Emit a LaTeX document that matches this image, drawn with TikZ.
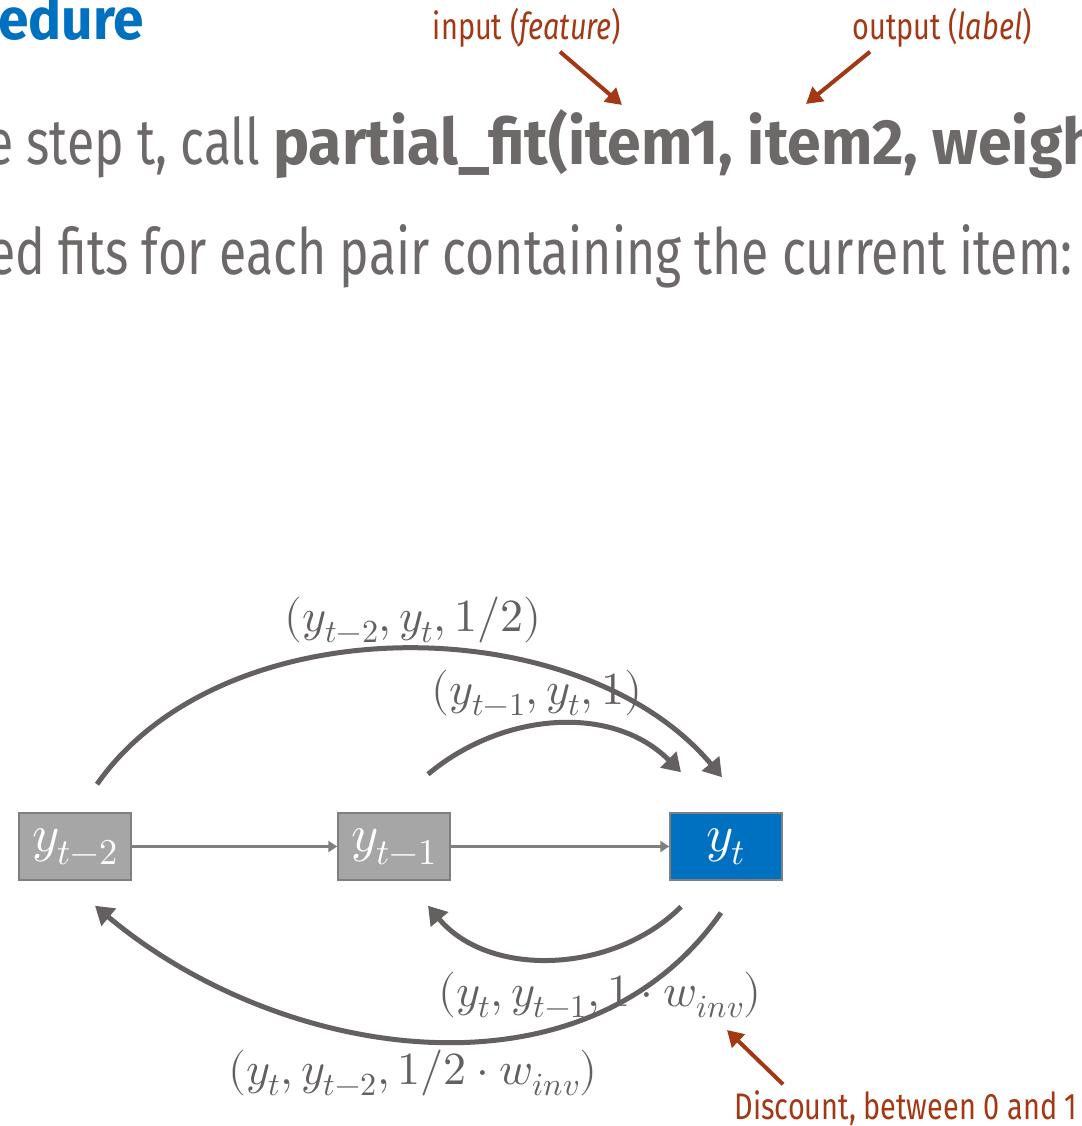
\documentclass[tikz,border=0pt]{standalone}
\usepackage{fontspec}
\usepackage{unicode-math}
\setmainfont{Fira Sans}[FakeStretch=0.78,BoldFeatures={FakeStretch=0.95}]
\setmathfont{Latin Modern Math}
\usepackage{tikz}
\usetikzlibrary{arrows.meta}
\definecolor{slideblue}{RGB}{0,112,192}
\definecolor{slidegray}{RGB}{110,105,105}
\definecolor{boxgray}{RGB}{166,166,166}
\definecolor{boxline}{RGB}{127,127,127}
\definecolor{arcgray}{RGB}{100,96,96}
\definecolor{notered}{RGB}{163,56,20}
\newcommand{\bigtext}[1]{\fontsize{64}{70}\selectfont #1}
\newcommand{\notetext}[1]{\fontsize{37}{40}\selectfont #1}

\begin{document}
\begin{tikzpicture}[x=1pt,y=1pt,
    itembox/.style={draw=boxline,line width=1.5pt,fill=boxgray,text=white,
      minimum width=112pt,minimum height=67pt,inner sep=0pt,font=\fontsize{52}{54}\selectfont},
    flow/.style={draw=boxline,line width=3pt,-{Triangle[length=9pt,width=11pt]}},
    fitarc/.style={draw=arcgray,line width=5pt,-{Triangle[length=18pt,width=22pt]}},
    note/.style={draw=notered,line width=4pt,-{Triangle[length=16pt,width=18pt]}},
    fitlabel/.style={text=arcgray,font=\fontsize{46}{48}\selectfont,inner sep=0pt}]
    \useasboundingbox (0,0) rectangle (1081,1126);
    \clip (0,0) rectangle (1081,1126);
    % slide text
    \node[anchor=base west,inner sep=0pt,text=slideblue] (title) at (-2,1086)
      {\fontsize{58}{60}\selectfont\bfseries edure};
    \node[anchor=base west,inner sep=0pt,text=slidegray] (line1) at (-14,961)
      {\bigtext{e step t, call \textbf{partial\_fit(item1, item2, weigh}}};
    \node[anchor=base west,inner sep=0pt,text=slidegray] (line2) at (-12,851)
      {\bigtext{ed fits for each pair containing the current item:}};
    % notes
    \node[text=notered,inner sep=0pt] (inp) at (527,1098)
      {\notetext{input (\textit{feature})}};
    \node[text=notered,inner sep=0pt] (outp) at (942,1098)
      {\notetext{output (\textit{label})}};
    \node[text=notered,inner sep=0pt] (disc) at (906,18)
      {\notetext{Discount, between 0 and 1}};
    \coordinate (arg1) at (622,1021);
    \coordinate (arg2) at (806,1022);
    \coordinate (winv) at (727,96);
    % items
    \node[itembox] (ym2) at (75,279.5) {\raisebox{-5pt}{$y_{t-2}$}};
    \node[itembox] (ym1) at (394,279.5) {\raisebox{-5pt}{$y_{t-1}$}};
    \node[itembox,fill=slideblue] (yt) at (726,279.5) {\raisebox{-5pt}{$y_t$}};
    \draw[flow] (ym2) -- (ym1);
    \draw[flow] (ym1) -- (yt);
    % forward fits
    \draw[fitarc] ([shift={(22,28)}]ym2.north) to[out=55,in=130,distance=221pt]
      ([shift={(-4,35)}]yt.north);
    \draw[fitarc] ([shift={(34,38)}]ym1.north) to[out=40,in=135,distance=97pt]
      ([shift={(-45,40)}]yt.north);
    % inverse fits
    \draw[fitarc] ([shift={(-45,-26)}]yt.south) to[out=225,in=310,distance=95pt]
      ([shift={(34,-25)}]ym1.south);
    \draw[fitarc] ([shift={(-5,-32)}]yt.south) to[out=235,in=320,distance=240pt]
      ([shift={(20,-25)}]ym2.south);
    \node[fitlabel] (lab1) at (413,506) {$(y_{t-2}, y_t, 1/2)$};
    \node[fitlabel] (lab2) at (537,433) {$(y_{t-1}, y_t, 1)$};
    \node[fitlabel] (lab3) at (600,131) {$(y_t, y_{t-1}, 1\cdot w_{inv})$};
    \node[fitlabel] (lab4) at (413,53) {$(y_t, y_{t-2}, 1/2\cdot w_{inv})$};
    \draw[note] ([xshift=33pt,yshift=-4pt]inp.south) -- (arg1);
    \draw[note] ([xshift=-72pt,yshift=-4pt]outp.south) -- (arg2);
    \draw[note] ([xshift=-123pt,yshift=6pt]disc.north) -- (winv);
  \end{tikzpicture}
\end{document}
